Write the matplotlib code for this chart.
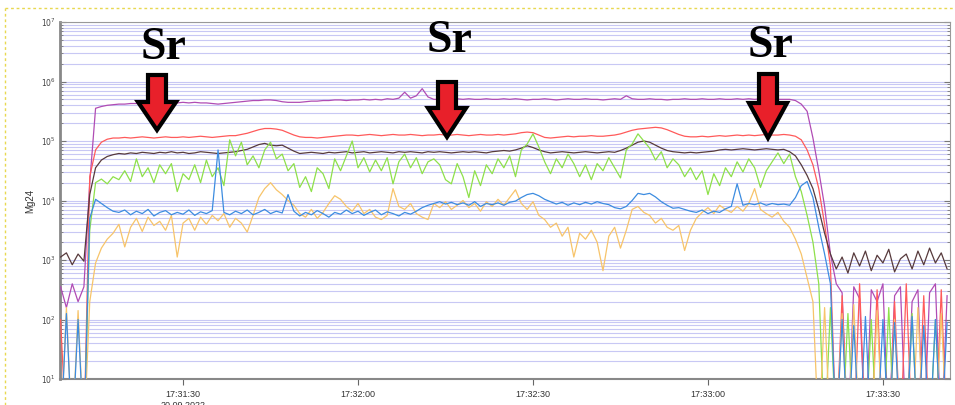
import numpy as np
import matplotlib
matplotlib.use('Agg')
import matplotlib.pyplot as plt
from matplotlib.patches import Polygon
from matplotlib.lines import Line2D
from matplotlib.ticker import LogLocator, FixedLocator, NullFormatter

# time in seconds after 17:31:00, one reading per second
t = np.arange(9, 162)

# log10 of the intensity (cps); 0 means below the axis (empty reading)
mg_magenta = [
    2.55, 2.20, 2.60, 2.30, 2.55, 4.30, 5.55, 5.58, 5.60, 5.61,
    5.62, 5.62, 5.63, 5.63, 5.64, 5.63, 5.64, 5.64, 5.63, 5.64,
    5.64, 5.65, 5.64, 5.65, 5.64, 5.64, 5.63, 5.62, 5.63, 5.64,
    5.65, 5.66, 5.67, 5.68, 5.68, 5.69, 5.69, 5.68, 5.66, 5.65,
    5.65, 5.65, 5.66, 5.67, 5.67, 5.68, 5.68, 5.69, 5.69, 5.68,
    5.69, 5.69, 5.70, 5.69, 5.70, 5.69, 5.71, 5.70, 5.72, 5.82,
    5.72, 5.76, 5.88, 5.74, 5.70, 5.70, 5.71, 5.70, 5.71, 5.70,
    5.71, 5.70, 5.70, 5.71, 5.70, 5.70, 5.71, 5.70, 5.71, 5.70,
    5.69, 5.70, 5.70, 5.71, 5.70, 5.69, 5.70, 5.71, 5.70, 5.70,
    5.71, 5.70, 5.70, 5.69, 5.70, 5.71, 5.70, 5.76, 5.71, 5.70,
    5.70, 5.71, 5.70, 5.70, 5.69, 5.70, 5.70, 5.71, 5.70, 5.70,
    5.71, 5.70, 5.70, 5.71, 5.70, 5.70, 5.71, 5.70, 5.71, 5.70,
    5.71, 5.70, 5.71, 5.70, 5.70, 5.70, 5.68, 5.62, 5.50, 5.05,
    4.50, 3.90, 3.10, 2.60, 2.45, 0, 2.55, 2.35, 0, 2.50,
    2.30, 2.60, 0, 2.40, 2.55, 0, 2.30, 2.50, 0, 2.45,
    2.60, 0, 2.40,
]
mg_red = [
    2.00, 0, 0, 0, 0, 4.40, 4.85, 4.98, 5.03, 5.05,
    5.05, 5.06, 5.05, 5.06, 5.07, 5.06, 5.05, 5.06, 5.07, 5.06,
    5.06, 5.07, 5.06, 5.07, 5.08, 5.07, 5.06, 5.07, 5.08, 5.09,
    5.09, 5.11, 5.13, 5.16, 5.19, 5.21, 5.21, 5.20, 5.18, 5.14,
    5.10, 5.07, 5.06, 5.06, 5.05, 5.06, 5.07, 5.08, 5.09, 5.10,
    5.10, 5.09, 5.10, 5.11, 5.10, 5.09, 5.10, 5.11, 5.10, 5.10,
    5.11, 5.10, 5.09, 5.10, 5.10, 5.11, 5.10, 5.10, 5.11, 5.10,
    5.09, 5.10, 5.11, 5.10, 5.10, 5.11, 5.10, 5.11, 5.12, 5.14,
    5.15, 5.14, 5.10, 5.06, 5.05, 5.06, 5.07, 5.08, 5.07, 5.08,
    5.08, 5.09, 5.08, 5.08, 5.09, 5.10, 5.12, 5.15, 5.18, 5.20,
    5.21, 5.22, 5.23, 5.22, 5.19, 5.15, 5.11, 5.08, 5.07, 5.07,
    5.08, 5.07, 5.08, 5.09, 5.08, 5.09, 5.10, 5.09, 5.10, 5.09,
    5.10, 5.11, 5.10, 5.10, 5.11, 5.10, 5.08, 5.02, 4.85, 4.60,
    4.20, 3.60, 2.90, 0, 2.40, 0, 0, 2.60, 0, 0,
    2.50, 0, 0, 2.30, 0, 2.60, 0, 0, 2.40, 0,
    0, 2.50, 0,
]
mg_brown = [
    3.05, 3.12, 2.92, 3.10, 2.98, 4.10, 4.55, 4.68, 4.74, 4.77,
    4.79, 4.78, 4.80, 4.79, 4.81, 4.80, 4.79, 4.81, 4.80, 4.82,
    4.80, 4.81, 4.79, 4.80, 4.82, 4.81, 4.80, 4.79, 4.80, 4.81,
    4.82, 4.84, 4.86, 4.90, 4.94, 4.96, 4.93, 4.92, 4.93, 4.88,
    4.83, 4.79, 4.80, 4.81, 4.80, 4.79, 4.81, 4.80, 4.81, 4.82,
    4.80, 4.81, 4.82, 4.80, 4.81, 4.82, 4.81, 4.80, 4.82, 4.81,
    4.82, 4.81, 4.80, 4.82, 4.81, 4.82, 4.81, 4.80, 4.81, 4.82,
    4.81, 4.82, 4.81, 4.80, 4.82, 4.83, 4.84, 4.83, 4.85, 4.88,
    4.92, 4.89, 4.85, 4.82, 4.80, 4.81, 4.82, 4.81, 4.80, 4.81,
    4.82, 4.81, 4.80, 4.81, 4.82, 4.81, 4.84, 4.88, 4.93, 4.98,
    5.00, 4.98, 4.93, 4.88, 4.84, 4.82, 4.81, 4.80, 4.81, 4.80,
    4.81, 4.82, 4.83, 4.85, 4.86, 4.85, 4.86, 4.87, 4.86, 4.85,
    4.86, 4.87, 4.86, 4.85, 4.86, 4.82, 4.75, 4.60, 4.42, 4.20,
    3.85, 3.45, 3.10, 2.85, 3.05, 2.78, 3.12, 2.90, 3.15, 2.82,
    3.08, 2.95, 3.18, 2.80, 3.02, 3.10, 2.85, 3.15, 2.92, 3.20,
    2.95, 3.12, 2.85,
]
mg_green = [
    0, 0, 0, 0, 0, 3.50, 4.30, 4.36, 4.28, 4.40,
    4.35, 4.50, 4.32, 4.70, 4.40, 4.55, 4.30, 4.60, 4.45, 4.62,
    4.15, 4.45, 4.35, 4.60, 4.30, 4.68, 4.40, 4.55, 4.25, 5.02,
    4.75, 4.98, 4.60, 4.75, 4.55, 4.85, 4.98, 4.70, 4.78, 4.50,
    4.62, 4.22, 4.40, 4.15, 4.55, 4.45, 4.20, 4.70, 4.50, 4.75,
    5.00, 4.55, 4.72, 4.48, 4.68, 4.50, 4.72, 4.28, 4.65, 4.78,
    4.55, 4.72, 4.45, 4.65, 4.70, 4.60, 4.35, 4.28, 4.62, 4.40,
    4.05, 4.50, 4.25, 4.60, 4.45, 4.70, 4.55, 4.75, 4.40, 4.85,
    4.95, 5.12, 4.90, 4.65, 4.45, 4.70, 4.55, 4.78, 4.62, 4.40,
    4.60, 4.35, 4.62, 4.50, 4.72, 4.55, 4.38, 4.85, 4.95, 5.12,
    5.00, 4.88, 4.68, 4.82, 4.55, 4.70, 4.60, 4.40, 4.55, 4.35,
    4.50, 4.10, 4.45, 4.25, 4.55, 4.40, 4.65, 4.48, 4.70, 4.55,
    4.22, 4.50, 4.65, 4.80, 4.62, 4.78, 4.40, 4.15, 3.75, 3.30,
    2.60, 0, 2.20, 0, 0, 2.10, 0, 0, 0, 2.00,
    0, 0, 2.20, 0, 0, 0, 2.10, 0, 0, 0,
    2.00, 0, 0,
]
mg_blue = [
    0, 2.10, 0, 2.00, 0, 3.70, 4.02, 3.95, 3.88, 3.82,
    3.80, 3.84, 3.76, 3.82, 3.78, 3.85, 3.74, 3.80, 3.83, 3.76,
    3.80, 3.77, 3.84, 3.75, 3.81, 3.78, 3.83, 4.85, 3.80, 3.76,
    3.82, 3.78, 3.84, 3.76, 3.80, 3.85, 3.78, 3.82, 3.79, 4.10,
    3.82, 3.74, 3.80, 3.76, 3.83, 3.78, 3.72, 3.80, 3.77, 3.84,
    3.78, 3.82, 3.75, 3.80, 3.84, 3.76, 3.81, 3.78, 3.74, 3.80,
    3.77, 3.82, 3.88, 3.92, 3.95, 3.98, 3.94, 3.97, 3.93, 3.96,
    3.92, 3.98, 3.90, 3.95, 3.93, 3.96, 3.92, 3.97, 3.99, 4.05,
    4.10, 4.12, 4.08, 4.02, 3.98, 3.94, 3.97, 3.92, 3.96, 3.93,
    3.97, 3.94, 3.98, 3.95, 3.93, 3.88, 3.86, 3.90, 4.00, 4.12,
    4.10, 4.12, 4.06, 3.98, 3.92, 3.87, 3.88, 3.85, 3.82, 3.80,
    3.84, 3.78, 3.82, 3.80, 3.86, 3.90, 4.28, 3.92, 3.95, 3.93,
    3.96, 3.92, 3.95, 3.93, 3.94, 3.92, 4.05, 4.25, 4.32, 4.05,
    3.55, 3.10, 2.60, 0, 2.00, 0, 1.90, 0, 2.05, 0,
    0, 2.00, 0, 1.95, 0, 0, 2.05, 0, 1.90, 0,
    2.00, 0, 1.95,
]
mg_orange = [
    0, 2.20, 0, 2.15, 0, 2.30, 2.95, 3.20, 3.35, 3.45,
    3.60, 3.22, 3.55, 3.70, 3.48, 3.72, 3.58, 3.65, 3.50, 3.75,
    3.05, 3.62, 3.70, 3.50, 3.72, 3.60, 3.75, 3.66, 3.78, 3.55,
    3.70, 3.62, 3.47, 3.75, 4.05, 4.20, 4.30, 4.18, 4.10, 4.00,
    3.92, 3.78, 3.72, 3.85, 3.70, 3.80, 3.95, 4.08, 4.02, 3.90,
    3.82, 3.95, 3.78, 3.85, 3.72, 3.68, 3.75, 4.20, 3.90, 3.85,
    3.95, 3.78, 3.72, 3.68, 3.95, 3.88, 3.98, 3.85, 3.92, 4.00,
    3.88, 3.95, 3.82, 3.98, 3.90, 4.02, 3.92, 4.05, 4.18, 3.95,
    3.85, 3.98, 3.75, 3.68, 3.55, 3.62, 3.40, 3.55, 3.05, 3.45,
    3.35, 3.50, 3.30, 2.82, 3.40, 3.55, 3.20, 3.50, 3.85, 3.90,
    3.80, 3.75, 3.62, 3.70, 3.55, 3.50, 3.58, 3.16, 3.50, 3.70,
    3.80, 3.88, 3.78, 3.92, 3.85, 3.80, 3.90, 3.82, 3.95, 4.20,
    3.85, 3.78, 3.72, 3.80, 3.65, 3.55, 3.35, 3.10, 2.70, 2.30,
    0, 2.20, 0, 0, 2.10, 0, 2.25, 0, 0, 0,
    2.15, 0, 0, 2.00, 0, 0, 0, 2.20, 0, 0,
    0, 2.10, 0,
]

tick_secs = [30, 60, 90, 120, 150]
tick_labels = ['17:31:30', '17:32:00', '17:32:30', '17:33:00', '17:33:30']
decades = [1e1, 1e2, 1e3, 1e4, 1e5, 1e6, 1e7]

W, H = 955, 405
fig = plt.figure(figsize=(W / 100, H / 100), dpi=100)
ax = fig.add_axes([60 / W, 1 - 379 / H, 890 / W, 357 / H])


def fpt(x, y):
    # picture pixel -> figure fraction
    return (x / W, 1 - y / H)


series = [
    (mg_magenta, '#b04cb4'),
    (mg_red, '#ff5a5a'),
    (mg_brown, '#573a3c'),
    (mg_green, '#8ee04a'),
    (mg_orange, '#f7c46a'),
    (mg_blue, '#3c8ce0'),
]
for vals, col in series:
    ax.plot(t, 10 ** np.array(vals), color=col, lw=0.9, zorder=3)

ax.set_yscale('log')
ax.set_ylim(10, 1e7)
ax.set_xlim(8.9, 161.5)

ax.yaxis.set_major_locator(FixedLocator(decades))
ax.yaxis.set_minor_locator(LogLocator(base=10, subs=np.arange(2, 10), numticks=20))
ax.yaxis.set_minor_formatter(NullFormatter())
ax.grid(True, which='both', axis='y', color='#c8c8f4', lw=0.8, zorder=1)
ax.tick_params(axis='y', which='both', direction='in', right=True, labelsize=5.5,
               labelcolor='#444444', color='#777777', pad=3)
ax.tick_params(axis='y', which='major', length=4)
ax.tick_params(axis='y', which='minor', length=2)

ax.xaxis.set_major_locator(FixedLocator(tick_secs))
ax.set_xticklabels(tick_labels, fontsize=6.5, family='Liberation Sans', color='#333333')
ax.tick_params(axis='x', direction='out', length=4, color='#666666', pad=4)

for side in ['top', 'right']:
    ax.spines[side].set_color('#999999')
    ax.spines[side].set_linewidth(0.8)
ax.spines['left'].set_color('#888888')
ax.spines['left'].set_linewidth(2)
ax.spines['bottom'].set_color('#888888')
ax.spines['bottom'].set_linewidth(1.5)

ax.set_ylabel('Mg24', fontsize=7, family='Liberation Sans', color='#333333')
ax.yaxis.set_label_coords((35 - 60) / 890, 0.5)

# date line under the first time label, cut by the picture edge as in the screenshot
fig.text(183 / W, 1 - 401 / H, '20.09.2022', fontsize=6.5, family='Liberation Sans',
         color='#333333', ha='center', va='top')

# Sr markers with arrows
for cx, ty, y0, yh, yt in [(163, 48, 75, 102, 130), (449, 41, 82, 108, 137),
                           (770, 46, 74, 103, 138)]:
    fig.text(*fpt(cx, ty), 'Sr', fontsize=33, fontweight='bold', family='Liberation Serif',
             ha='center', va='center', color='black')
    ax_c = cx - 6 if cx == 163 else cx - 2
    sw, hw = 9, 19
    pts = [(ax_c - sw, y0), (ax_c + sw, y0), (ax_c + sw, yh), (ax_c + hw, yh),
           (ax_c, yt), (ax_c - hw, yh), (ax_c - sw, yh)]
    fig.add_artist(Polygon([fpt(x, y) for x, y in pts], closed=True, transform=fig.transFigure,
                           facecolor='#e8202a', edgecolor='black', lw=3, joinstyle='miter', zorder=5))

# dotted yellow frame of the screenshot
fig.add_artist(Line2D([5 / W, 1], [1 - 8 / H] * 2, transform=fig.transFigure,
                      color='#e8d850', lw=1, ls=(0, (2, 2))))
fig.add_artist(Line2D([5 / W] * 2, [0, 1 - 8 / H], transform=fig.transFigure,
                      color='#e8d850', lw=1, ls=(0, (2, 2))))

fig.savefig('out.png', dpi=100)
